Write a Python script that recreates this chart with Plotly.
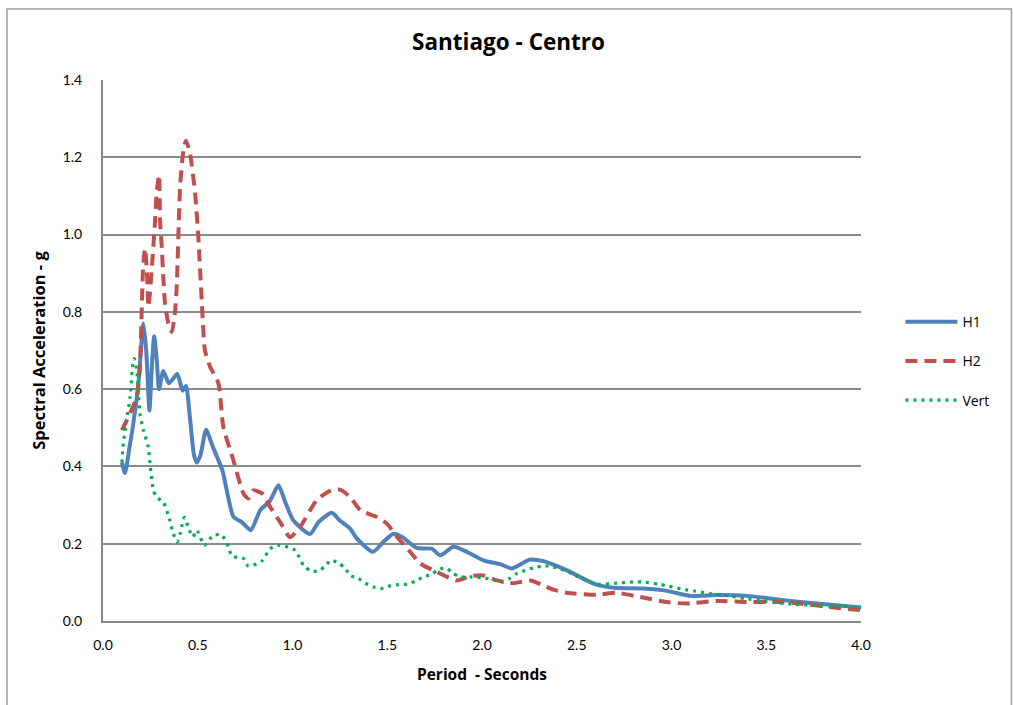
import plotly.graph_objects as go

# ---- data ----
h1_x = [0.10, 0.116, 0.14, 0.16, 0.187, 0.204, 0.213, 0.228, 0.245, 0.258, 0.27, 0.283, 0.296, 0.318, 0.348,
        0.392, 0.42, 0.438, 0.46, 0.48, 0.495, 0.515, 0.544, 0.58, 0.63, 0.688, 0.732, 0.78, 0.83, 0.88,
        0.926, 0.96, 1.005, 1.093, 1.137, 1.207, 1.25, 1.304, 1.34, 1.424, 1.48, 1.533, 1.577, 1.656,
        1.735, 1.78, 1.85, 1.92, 2.008, 2.096, 2.158, 2.254, 2.325, 2.36, 2.448, 2.589, 2.695, 2.853,
        2.976, 3.10, 3.24, 3.398, 3.59, 3.768, 4.0]
h1_y = [0.41, 0.383, 0.45, 0.511, 0.615, 0.727, 0.77, 0.70, 0.545, 0.66, 0.737, 0.68, 0.60, 0.647, 0.615,
        0.639, 0.596, 0.608, 0.52, 0.43, 0.41, 0.43, 0.495, 0.45, 0.39, 0.27, 0.256, 0.235, 0.287, 0.31,
        0.351, 0.31, 0.26, 0.225, 0.256, 0.28, 0.26, 0.239, 0.213, 0.179, 0.205, 0.226, 0.218, 0.189,
        0.187, 0.17, 0.192, 0.179, 0.157, 0.147, 0.136, 0.159, 0.155, 0.149, 0.131, 0.097, 0.086, 0.084,
        0.078, 0.065, 0.067, 0.065, 0.054, 0.045, 0.035]

h2_x = [0.10, 0.143, 0.178, 0.195, 0.204, 0.212, 0.222, 0.232, 0.24, 0.257, 0.275, 0.283, 0.296, 0.301,
        0.31, 0.327, 0.345, 0.363, 0.38, 0.389, 0.407, 0.425, 0.438, 0.459, 0.486, 0.503, 0.521, 0.538,
        0.565, 0.609, 0.635, 0.688, 0.741, 0.767, 0.794, 0.846, 0.882, 0.935, 0.987, 1.04, 1.128, 1.199,
        1.251, 1.304, 1.357, 1.445, 1.498, 1.551, 1.621, 1.674, 1.762, 1.867, 1.938, 2.008, 2.079, 2.166,
        2.254, 2.325, 2.377, 2.448, 2.607, 2.712, 2.835, 2.976, 3.082, 3.24, 3.398, 3.592, 3.68, 3.856, 4.0]
h2_y = [0.494, 0.538, 0.58, 0.66, 0.80, 0.92, 0.964, 0.90, 0.813, 0.908, 1.038, 1.107, 1.154, 1.038,
        0.968, 0.823, 0.77, 0.748, 0.80, 0.865, 1.124, 1.22, 1.243, 1.21, 1.107, 0.994, 0.83, 0.70,
        0.658, 0.615, 0.502, 0.416, 0.33, 0.317, 0.338, 0.328, 0.295, 0.256, 0.217, 0.243, 0.313, 0.337,
        0.34, 0.321, 0.287, 0.269, 0.252, 0.218, 0.179, 0.149, 0.127, 0.105, 0.116, 0.118, 0.105, 0.098,
        0.105, 0.092, 0.081, 0.073, 0.068, 0.073, 0.062, 0.049, 0.045, 0.052, 0.049, 0.049, 0.045, 0.035, 0.028]

vert_x = [0.10, 0.107, 0.125, 0.143, 0.16, 0.165, 0.178, 0.187, 0.195, 0.213, 0.239, 0.248, 0.266, 0.283,
          0.318, 0.35, 0.371, 0.392, 0.407, 0.429, 0.456, 0.474, 0.495, 0.535, 0.582, 0.627, 0.662, 0.68,
          0.741, 0.767, 0.838, 0.882, 0.926, 0.97, 1.014, 1.058, 1.093, 1.137, 1.172, 1.202, 1.243, 1.278,
          1.304, 1.348, 1.383, 1.427, 1.468, 1.515, 1.559, 1.603, 1.647, 1.69, 1.735, 1.77, 1.81, 1.846,
          1.885, 1.938, 2.017, 2.07, 2.11, 2.149, 2.184, 2.228, 2.272, 2.316, 2.36, 2.404, 2.448, 2.492,
          2.536, 2.58, 2.624, 2.712, 2.80, 2.844, 2.937, 2.985, 3.073, 3.117, 3.205, 3.293, 3.39, 3.478,
          3.566, 3.654, 3.75, 3.84, 3.927, 4.0]
vert_y = [0.41, 0.459, 0.52, 0.58, 0.675, 0.679, 0.649, 0.589, 0.537, 0.494, 0.45, 0.408, 0.338, 0.32,
          0.308, 0.265, 0.226, 0.205, 0.226, 0.268, 0.235, 0.218, 0.235, 0.196, 0.222, 0.222, 0.192, 0.168,
          0.162, 0.142, 0.155, 0.187, 0.196, 0.192, 0.183, 0.144, 0.131, 0.129, 0.142, 0.157, 0.150, 0.136,
          0.118, 0.110, 0.098, 0.088, 0.084, 0.091, 0.094, 0.095, 0.103, 0.114, 0.121, 0.133, 0.137, 0.124,
          0.114, 0.114, 0.111, 0.105, 0.101, 0.111, 0.123, 0.131, 0.138, 0.142, 0.142, 0.136, 0.129, 0.118,
          0.108, 0.099, 0.095, 0.098, 0.101, 0.101, 0.095, 0.090, 0.081, 0.078, 0.071, 0.066, 0.058, 0.052,
          0.047, 0.043, 0.041, 0.038, 0.038, 0.036]

x_ticks = [0.0, 0.5, 1.0, 1.5, 2.0, 2.5, 3.0, 3.5, 4.0]
y_ticks = [0.0, 0.2, 0.4, 0.6, 0.8, 1.0, 1.2, 1.4]

FONT = "Lato"
TFONT = "Open Sans"

fig = go.Figure()
fig.add_trace(go.Scatter(x=h1_x, y=h1_y, name="H1", mode="lines", legendgroup="a",
                         line=dict(color="#4F81BD", width=4, shape="spline", smoothing=0.6)))
fig.add_trace(go.Scatter(x=h2_x, y=h2_y, name="H2", mode="lines", legendgroup="b",
                         line=dict(color="#C0504D", width=4, shape="spline", smoothing=0.6, dash="12px,7px")))
fig.add_trace(go.Scatter(x=vert_x, y=vert_y, name="Vert", mode="lines", legendgroup="c",
                         line=dict(color="#00B050", width=3.2, shape="spline", smoothing=0.6, dash="3px,5px")))

fig.update_layout(
    width=1013, height=705, autosize=False,
    margin=dict(l=103, r=152, t=80, b=84),
    paper_bgcolor="white", plot_bgcolor="white",
    font=dict(family=FONT, size=14, color="#000000"),
    title=dict(text="<b>Santiago - Centro</b>", x=0.502, xanchor="center", xref="container",
               y=0.94, yanchor="middle", font=dict(family=TFONT, size=22.5, color="#000000")),
    legend=dict(x=1.052, xanchor="left", y=0.582, yanchor="top", traceorder="grouped",
                tracegroupgap=18, itemwidth=52, font=dict(family=TFONT, size=14),
                bgcolor="rgba(0,0,0,0)"),
    xaxis=dict(range=[0, 4], tickvals=x_ticks, ticktext=[f"{v:.1f}" for v in x_ticks],
               showgrid=False, zeroline=False, showline=True, linecolor="#868686", linewidth=2,
               ticks="", ticklabelstandoff=10,
               title=dict(text="<b>Period  - Seconds</b>", standoff=17, font=dict(family=TFONT, size=15.5))),
    yaxis=dict(range=[0, 1.4], tickvals=y_ticks, ticktext=[f"{v:.1f}" for v in y_ticks],
               showgrid=True, gridcolor="#8C8C8C", gridwidth=1.5, zeroline=False,
               showline=True, linecolor="#868686", linewidth=2, ticks="", ticklabelstandoff=16,
               title=dict(text="<b>Spectral Acceleration - g</b>", standoff=13,
                          font=dict(family=TFONT, size=16.5))),
    shapes=[dict(type="rect", xref="paper", yref="paper",
                 x0=(7 - 103) / 758, x1=(1011.5 - 103) / 758,
                 y0=(621 - 740) / 541, y1=(621 - 9) / 541,
                 line=dict(color="#A0A0A0", width=1.5), fillcolor="rgba(0,0,0,0)", layer="below")],
)

fig.write_html("out.html", config={"displayModeBar": False},
               post_script="document.body.style.margin='0px';document.body.style.overflow='hidden';")
